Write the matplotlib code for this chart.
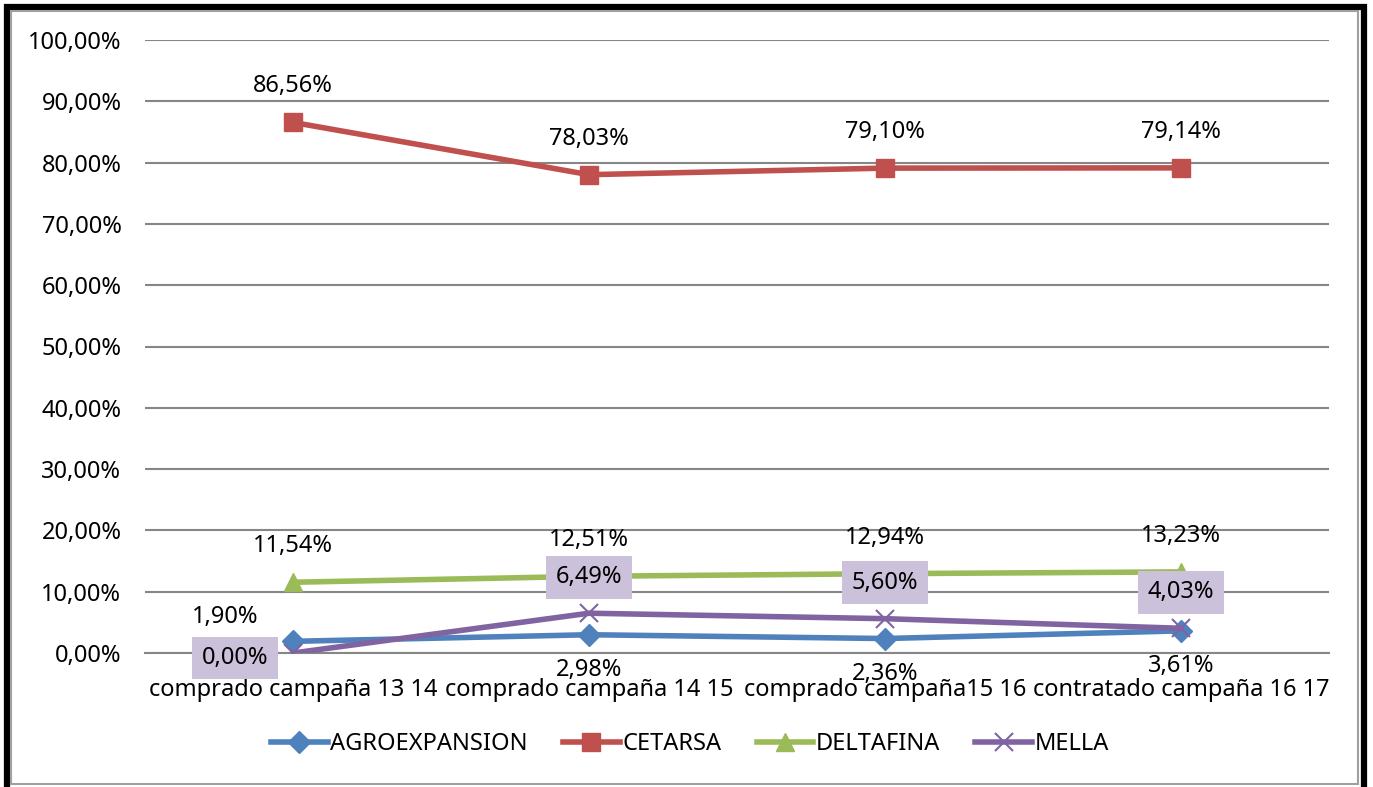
import numpy as np
import matplotlib.pyplot as plt
from matplotlib.patches import Rectangle

plt.rcParams['font.family'] = ['Noto Sans', 'DejaVu Sans']

categories = ['comprado campaña 13 14', 'comprado campaña 14 15',
              'comprado campaña15 16', 'contratado campaña 16 17']
agro = [1.90, 2.98, 2.36, 3.61]
cetarsa = [86.56, 78.03, 79.10, 79.14]
deltafina = [11.54, 12.51, 12.94, 13.23]
mella = [0.00, 6.49, 5.60, 4.03]

fig = plt.figure(figsize=(13.73, 7.87), dpi=100)
ax = fig.add_axes([145 / 1373, 1 - 653 / 787, 1184 / 1373, 613 / 787])

x = np.arange(len(categories))
lw = 4
ax.plot(x, agro, color='#4F81BD', lw=lw, marker='D', ms=11, label='AGROEXPANSION', zorder=4)
ax.plot(x, cetarsa, color='#C0504D', lw=lw, marker='s', ms=13, label='CETARSA', zorder=4)
ax.plot(x, deltafina, color='#9BBB59', lw=lw, marker='^', ms=13, label='DELTAFINA', zorder=4)
ax.plot(x, mella, color='#8064A2', lw=lw, marker='x', ms=13, mew=1.5, label='MELLA', zorder=5)

fs = 17


def fmt(v):
    return f'{v:.2f}%'.replace('.', ',')


# data labels
for i, v in enumerate(agro):
    off = (-68, 24) if i == 0 else (0, -35)
    ax.annotate(fmt(v), (i, v), xytext=off, textcoords='offset pixels',
                ha='center', va='center', fontsize=fs, zorder=6)
for i, v in enumerate(cetarsa):
    ax.annotate(fmt(v), (i, v), xytext=(0, 36), textcoords='offset pixels',
                ha='center', va='center', fontsize=fs, zorder=6)
for i, v in enumerate(deltafina):
    ax.annotate(fmt(v), (i, v), xytext=(0, 36), textcoords='offset pixels',
                ha='center', va='center', fontsize=fs, zorder=6)
for i, v in enumerate(mella):
    off = (-58, -5) if i == 0 else (0, 36)
    ax.annotate(fmt(v), (i, v), xytext=off, textcoords='offset pixels',
                ha='center', va='center', fontsize=fs, zorder=7,
                bbox=dict(boxstyle='square,pad=0.4', fc='#CCC1DA', ec='none'))

ax.set_xlim(-0.5, len(categories) - 0.5)
ax.set_ylim(0, 100)
ax.set_yticks(np.arange(0, 101, 10))
ax.set_yticklabels([fmt(t) for t in np.arange(0, 101, 10)], fontsize=fs)
ax.set_xticks(x)
ax.set_xticklabels(categories, fontsize=fs)
ax.tick_params(axis='y', length=0, pad=17)
ax.tick_params(axis='x', length=0, pad=18)
ax.grid(axis='y', color='#868686', lw=1.5)
ax.set_axisbelow(True)
for s in ['top', 'right', 'left']:
    ax.spines[s].set_visible(False)
ax.spines['bottom'].set_color('#868686')
ax.spines['bottom'].set_linewidth(1.5)

fig.legend(loc='center', bbox_to_anchor=(690 / 1373, 1 - 744 / 787), ncol=4,
           frameon=False, fontsize=fs, handlelength=2.4, handletextpad=0.1,
           columnspacing=1.5)

# chart frame
fig.patches.append(Rectangle((7 / 1373, -0.01), 1357 / 1373, 1 - 7 / 787 + 0.01,
                             transform=fig.transFigure, fill=False, ec='black', lw=4.5))
fig.patches.append(Rectangle((11 / 1373, 1 - 784 / 787), 1347 / 1373, 773 / 787,
                             transform=fig.transFigure, fill=False, ec='#A0A0A0', lw=1.5))

fig.savefig('out.png', dpi=100)
